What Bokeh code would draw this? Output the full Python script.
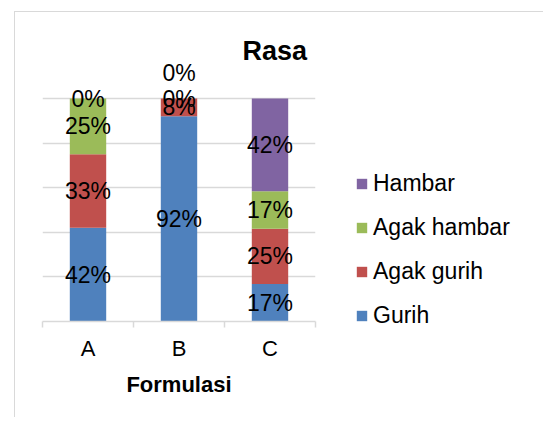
from bokeh.plotting import figure
from bokeh.models import (ColumnDataSource, Range1d, LinearAxis, FixedTicker,
                          Legend, LegendItem, Title)
from bokeh.core.properties import value
from bokeh.embed import file_html
from bokeh.resources import INLINE

# ---- data ----
categories = ["A", "B", "C"]
series_names = ["Gurih", "Agak gurih", "Agak hambar", "Hambar"]
gurih = [42, 92, 17]
agak_gurih = [33, 8, 25]
agak_hambar = [25, 0, 17]
hambar = [0, 0, 42]
colors = ["#4F81BD", "#C0504D", "#9BBB59", "#8064A2"]
y_ticks = [0, 0.2, 0.4, 0.6, 0.8, 1.0]

series_values = [gurih, agak_gurih, agak_hambar, hambar]
n = len(categories)
totals = [sum(s[i] for s in series_values) for i in range(n)]
xpos = [i + 0.5 for i in range(n)]   # category centres on a 0..n axis

FONT = "Liberation Sans"
GRID = "#D9D9D9"

# layout (pixels)
PLOT_H = 223          # pixel height of 0..100 %
TOP_EXTRA = 40        # room above 100 % for the labels
y_end = 1 + TOP_EXTRA / PLOT_H

p = figure(x_range=Range1d(0, n), y_range=Range1d(0, y_end),
           frame_width=273, frame_height=PLOT_H + TOP_EXTRA,
           output_backend="svg", toolbar_location=None,
           x_axis_location=None, y_axis_location=None,
           min_border_left=27, min_border_right=220,
           min_border_top=46, min_border_bottom=96)
p.margin = (11, 0, 0, 14)
p.styles = {"border-left": "1.5px solid #D9D9D9", "border-top": "1.5px solid #D9D9D9"}
p.outline_line_color = None
p.xgrid.visible = False
p.ygrid.ticker = FixedTicker(ticks=y_ticks)
p.ygrid.grid_line_color = GRID
p.ygrid.grid_line_width = 1.5

# stacked bars
renderers = []
bottoms = [0.0] * n
lab_x, lab_y, lab_t, lab_off = [], [], [], []
prev_zero = [False] * n
for name, vals, col in zip(series_names, series_values, colors):
    fr = [v / t for v, t in zip(vals, totals)]
    tops = [b + f for b, f in zip(bottoms, fr)]
    src = ColumnDataSource(dict(x=xpos, bottom=bottoms, top=tops))
    r = p.vbar(x="x", bottom="bottom", top="top", width=0.4, source=src,
               fill_color=col, line_color=None)
    renderers.append((name, r))
    for i in range(n):
        lab_x.append(xpos[i])
        lab_y.append((bottoms[i] + tops[i]) / 2)
        lab_t.append(f"{vals[i]}%")
        off = 0
        if vals[i] == 0 and prev_zero[i]:
            off = -26
        lab_off.append(off)
        prev_zero[i] = (vals[i] == 0)
    bottoms = tops

lsrc = ColumnDataSource(dict(x=lab_x, y=lab_y, t=lab_t, off=lab_off))
p.text(x="x", y="y", text="t", y_offset="off", source=lsrc,
       text_font=value(FONT), text_font_size="23px", text_color="black",
       text_align="center", text_baseline="middle")

# x axis: boundary ticks + category labels
ax = LinearAxis(ticker=FixedTicker(ticks=xpos, minor_ticks=list(range(n + 1))),
                major_label_overrides={x: c for x, c in zip(xpos, categories)})
ax.axis_line_color = GRID
ax.axis_line_width = 1.5
ax.major_tick_line_color = None
ax.minor_tick_line_color = GRID
ax.minor_tick_line_width = 1.5
ax.minor_tick_out = 6
ax.minor_tick_in = 0
ax.major_tick_out = 6
ax.major_tick_in = 0
ax.major_label_standoff = 8
ax.major_label_text_font = FONT
ax.major_label_text_font_size = "22px"
ax.major_label_text_color = "black"
ax.axis_label = "Formulasi"
ax.axis_label_text_font = FONT
ax.axis_label_text_font_size = "22px"
ax.axis_label_text_font_style = "bold"
ax.axis_label_text_color = "black"
ax.axis_label_standoff = 8
p.add_layout(ax, "below")

# title
t = Title(text="Rasa", align="left", offset=200, standoff=-15, vertical_align="bottom",
          text_font=FONT, text_font_size="27px", text_font_style="bold", text_color="black")
p.add_layout(t, "above")

# legend (in the right panel)
items = [LegendItem(label=name, renderers=[r]) for name, r in reversed(renderers)]
leg = Legend(items=items, location=(40, -8), padding=0, margin=0,
             border_line_color=None, background_fill_alpha=0,
             glyph_width=13, glyph_height=13, label_standoff=5,
             label_text_font=FONT, label_text_font_size="23px", label_height=22,
             label_text_color="black", spacing=17)
p.add_layout(leg, "right")

open("out.html", "w").write(file_html(p, INLINE))
